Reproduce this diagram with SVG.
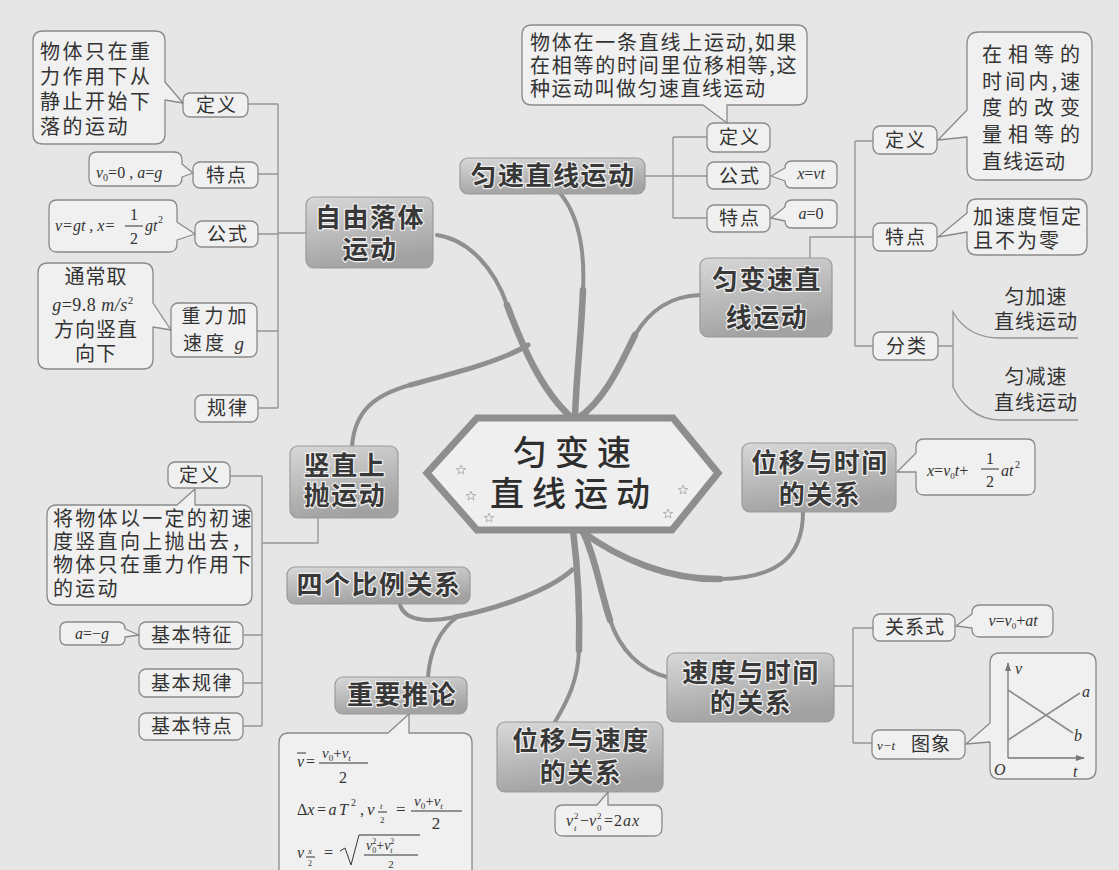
<svg xmlns="http://www.w3.org/2000/svg" width="1119" height="870" viewBox="0 0 1119 870">
<defs>
<linearGradient id="mg" x1="0" y1="0" x2="0.3" y2="1">
<stop offset="0" stop-color="#d8d8d8"/><stop offset="1" stop-color="#a2a2a2"/>
</linearGradient>
<marker id="ar" markerWidth="9" markerHeight="8" refX="8" refY="4" orient="auto" markerUnits="userSpaceOnUse"><path d="M0,1 L9,4 L0,7 Z" fill="#777"/></marker>
<path id="star" d="M0,-5 L1.2,-1.6 L4.8,-1.5 L1.9,0.6 L2.9,4 L0,2 L-2.9,4 L-1.9,0.6 L-4.8,-1.5 L-1.2,-1.6 Z"/>
<style>
.bg{fill:#e6e6e6}
.mn{fill:url(#mg);stroke:#9a9a9a;stroke-width:1.2}
.mt{font-family:"Noto Sans CJK SC","Noto Sans",sans-serif;font-weight:700;font-size:26px;fill:#383838;text-anchor:middle;letter-spacing:1.5px;stroke:#efefef;stroke-width:2.5px;paint-order:stroke;stroke-linejoin:round}
.sn{fill:#f0f0f0;stroke:#8a8a8a;stroke-width:1.3}
.st{font-family:"Noto Sans CJK SC",sans-serif;font-size:19px;fill:#333;text-anchor:middle}
.co{fill:#f0f0f0;stroke:#8a8a8a;stroke-width:1.3;stroke-linejoin:round}
.ct{font-family:"Noto Sans CJK SC",sans-serif;font-size:20px;fill:#333}
.cc{font-family:"Noto Sans CJK SC",sans-serif;font-size:20px;fill:#333;text-anchor:middle;letter-spacing:1px}
.m{font-family:"Liberation Serif",serif;font-style:italic;font-size:16px;fill:#333}
.u{font-style:normal}
.ln{fill:none;stroke:#969696;stroke-width:1.4}
.br{fill:none;stroke:#8f8f8f;stroke-linecap:round;stroke-linejoin:round}
.w1{stroke-width:4}
.w2{stroke-width:6.5}
.hx{fill:#efefef;stroke:#8e8e8e;stroke-width:7;stroke-linejoin:miter}
.ht{font-family:"Noto Sans CJK SC",sans-serif;font-weight:500;font-size:34px;fill:#2e2e2e;text-anchor:middle;letter-spacing:8px}
.sr{fill:none;stroke:#a5a5a5;stroke-width:0.8}
.fl{stroke:#333;stroke-width:1;fill:none}
.ax{stroke:#777;stroke-width:1.3;fill:none}
.gl{stroke:#8a8a8a;stroke-width:1.6;fill:none}
</style>
</defs>
<rect class="bg" x="0" y="0" width="1119" height="870"/>

<g id="connectors">
<path class="br w1" d="M560,193 C578,215 585,250 583,290"/>
<path class="br w2" d="M583,290 C581,340 576,380 575,418"/>
<path class="br w1" d="M437,235 C470,240 495,270 507,305"/>
<path class="br w2" d="M507,305 C520,340 540,390 572,418"/>
<path class="br w1" d="M352,446 C355,410 375,395 410,385"/>
<path class="br" stroke-width="5" d="M410,385 C450,374 500,362 528,345"/>
<path class="br w1" d="M700,295 C670,296 650,310 635,335"/>
<path class="br w2" d="M635,335 C620,365 605,400 578,418"/>
<path class="br w1" d="M803,512 C803,555 780,578 720,579"/>
<path class="br w2" d="M720,579 C670,580 620,560 580,530"/>
<path class="br w1" d="M667,677 C640,670 620,650 610,620"/>
<path class="br w2" d="M610,620 C600,590 595,555 582,530"/>
<path class="br w1" d="M555,722 C568,700 578,680 579,650"/>
<path class="br w2" d="M579,650 C580,610 578,570 573,530"/>
<path class="br w1" d="M400,605 C405,620 425,623 455,617"/>
<path class="br" stroke-width="5" d="M455,617 C500,608 550,590 572,570"/>
<path class="br w1" d="M428,677 C430,650 440,630 457,617"/>

<path class="ln" d="M306,233 H278 M278,104 V408 M248,104 H278 M258,174 H278 M258,234 H278 M257,331 H278 M258,408 H278"/>
<path class="ln" d="M318,518 V543 H262 M262,476 V726 M230,476 H262 M243,635 H262 M243,683 H262 M243,726 H262"/>
<path class="ln" d="M645,176 H707 M673,137 V218 M673,137 H707 M673,218 H707"/>
<path class="ln" d="M810,258 V237 H873 M855,141 V346 M855,141 H873 M855,346 H873"/>
<path class="ln" d="M834,686 H853 M853,628 V743 M853,628 H873 M853,743 H872"/>
<path class="ln" d="M938,346 H953 M1078,338 H1000 C978,338 962,328 953,312 V387 C960,402 975,420 1000,420 H1078"/>
</g>

<g id="center">
<polygon class="hx" points="427,473 477,418 673,418 718,473 672,530 477,530"/>
<use href="#star" class="sr" x="461" y="470"/>
<use href="#star" class="sr" x="471" y="496"/>
<use href="#star" class="sr" x="489" y="518"/>
<use href="#star" class="sr" x="683" y="490"/>
<use href="#star" class="sr" x="668" y="514"/>
<text class="ht"><tspan x="576" y="465">匀变速</tspan><tspan x="574" y="506">直线运动</tspan></text>
</g>

<g id="n-ziyou">
<rect class="mn" x="306" y="197" width="127" height="71" rx="8"/>
<text class="mt"><tspan x="370" y="227">自由落体</tspan><tspan x="370" y="259">运动</tspan></text>
</g>
<g id="n-yunsu">
<rect class="mn" x="460" y="158" width="185" height="36" rx="8"/>
<text class="mt" x="553" y="185">匀速直线运动</text>
</g>
<g id="n-yunbian">
<rect class="mn" x="700" y="258" width="132" height="79" rx="8"/>
<text class="mt"><tspan x="767" y="289">匀变速直</tspan><tspan x="767" y="327">线运动</tspan></text>
</g>
<g id="n-shuzhi">
<rect class="mn" x="290" y="446" width="108" height="72" rx="8"/>
<text class="mt"><tspan x="345" y="475">竖直上</tspan><tspan x="345" y="505">抛运动</tspan></text>
</g>
<g id="n-weiyi-shijian">
<rect class="mn" x="742" y="443" width="154" height="69" rx="8"/>
<text class="mt"><tspan x="820" y="472">位移与时间</tspan><tspan x="820" y="504">的关系</tspan></text>
</g>
<g id="n-sige">
<rect class="mn" x="287" y="567" width="183" height="37" rx="8"/>
<text class="mt" x="379" y="594">四个比例关系</text>
</g>
<g id="n-sudu-shijian">
<rect class="mn" x="667" y="653" width="167" height="69" rx="8"/>
<text class="mt"><tspan x="751" y="682">速度与时间</tspan><tspan x="751" y="712">的关系</tspan></text>
</g>
<g id="n-tuilun">
<rect class="mn" x="335" y="677" width="132" height="37" rx="8"/>
<text class="mt" x="402" y="704">重要推论</text>
</g>
<g id="n-weiyi-sudu">
<rect class="mn" x="497" y="722" width="166" height="70" rx="8"/>
<text class="mt"><tspan x="581" y="750">位移与速度</tspan><tspan x="581" y="782">的关系</tspan></text>
</g>

<g id="zy-dingyi">
<rect class="sn" x="183" y="93" width="65" height="24" rx="7"/>
<text class="st" x="217" y="112" letter-spacing="2">定义</text>
<path class="co" d="M43,31 H155 Q165,31 165,41 V82 L183,103 L165,100 V134 Q165,144 155,144 H43 Q33,144 33,134 V41 Q33,31 43,31 Z"/>
<text class="ct" letter-spacing="2.5"><tspan x="40" y="59">物体只在重</tspan><tspan x="40" y="84">力作用下从</tspan><tspan x="40" y="109">静止开始下</tspan><tspan x="40" y="134">落的运动</tspan></text>
</g>
<g id="zy-tedian">
<rect class="sn" x="193" y="162" width="65" height="26" rx="7"/>
<text class="st" x="227" y="182" letter-spacing="2">特点</text>
<path class="co" d="M97,152 H174 Q182,152 182,160 V164 L193,173 L182,177 V178 Q182,186 174,186 H97 Q89,186 89,178 V160 Q89,152 97,152 Z"/>
<text class="m" x="96" y="178" font-size="17">v<tspan font-size="10" dy="3" class="u">0</tspan><tspan dy="-3" class="u">=0 , </tspan><tspan>a</tspan><tspan class="u">=</tspan><tspan>g</tspan></text>
</g>
<g id="zy-gongshi">
<rect class="sn" x="195" y="221" width="63" height="26" rx="7"/>
<text class="st" x="228" y="241" letter-spacing="2">公式</text>
<path class="co" d="M57,200 H169 Q177,200 177,208 V222 L195,234 L177,240 V244 Q177,252 169,252 H57 Q49,252 49,244 V208 Q49,200 57,200 Z"/>
<text class="m"><tspan x="55" y="231">v=gt , x=</tspan><tspan class="u" x="134" y="220" text-anchor="middle">1</tspan><tspan class="u" x="134" y="244" text-anchor="middle">2</tspan><tspan x="145" y="231">gt</tspan><tspan class="u" x="158" y="223" font-size="10">2</tspan></text>
<line class="fl" x1="125" y1="226" x2="143" y2="226"/>
</g>
<g id="zy-zhongli">
<rect class="sn" x="171" y="303" width="86" height="54" rx="7"/>
<text class="st"><tspan x="216" y="323" letter-spacing="4">重力加</tspan><tspan x="215" y="350" letter-spacing="3">速度 <tspan font-family="Liberation Serif" font-style="italic">g</tspan></tspan></text>
<path class="co" d="M48,263 H143 Q153,263 153,273 V303 L171,330 L153,327 V359 Q153,369 143,369 H48 Q38,369 38,359 V273 Q38,263 48,263 Z"/>
<text class="cc" font-size="19"><tspan x="96" y="284">通常取</tspan><tspan x="93" y="311" font-family="Liberation Serif" font-style="italic" font-size="18" letter-spacing="0.5">g<tspan class="u">=9.8  </tspan>m/s<tspan class="u" font-size="11" dy="-7">2</tspan></tspan><tspan x="96" y="337">方向竖直</tspan><tspan x="96" y="361">向下</tspan></text>
</g>
<g id="zy-guilv">
<rect class="sn" x="195" y="395" width="63" height="27" rx="7"/>
<text class="st" x="228" y="415" letter-spacing="2">规律</text>
</g>

<g id="sz-dingyi">
<rect class="sn" x="168" y="462" width="62" height="26" rx="7"/>
<text class="st" x="200" y="482" letter-spacing="2">定义</text>
<path class="co" d="M57,505 H177 L195,489 V505 H242 Q252,505 252,515 V595 Q252,605 242,605 H57 Q47,605 47,595 V515 Q47,505 57,505 Z"/>
<text class="ct" font-size="19" letter-spacing="2.3"><tspan x="53" y="526">将物体以一定的初速</tspan><tspan x="53" y="549">度竖直向上抛出去，</tspan><tspan x="53" y="572">物体只在重力作用下</tspan><tspan x="53" y="596">的运动</tspan></text>
</g>
<g id="sz-tezheng">
<rect class="sn" x="139" y="622" width="104" height="27" rx="7"/>
<text class="st" x="192" y="642" letter-spacing="1.5">基本特征</text>
<path class="co" d="M67,622 H118 Q125,622 125,629 L139,635 L125,637 V638 Q125,645 118,645 H67 Q60,645 60,638 V629 Q60,622 67,622 Z"/>
<text class="m" x="92" y="639" text-anchor="middle">a<tspan class="u">=−</tspan>g</text>
</g>
<g id="sz-guilv">
<rect class="sn" x="139" y="669" width="104" height="28" rx="7"/>
<text class="st" x="192" y="690" letter-spacing="1.5">基本规律</text>
</g>
<g id="sz-tedian">
<rect class="sn" x="139" y="713" width="104" height="27" rx="7"/>
<text class="st" x="192" y="733" letter-spacing="1.5">基本特点</text>
</g>

<g id="ys-dingyi">
<rect class="sn" x="707" y="123" width="63" height="29" rx="7"/>
<text class="st" x="740" y="144" letter-spacing="2">定义</text>
<path class="co" d="M532,25 H797 Q807,25 807,35 V95 Q807,105 797,105 H727 V123 L703,105 H532 Q522,105 522,95 V35 Q522,25 532,25 Z"/>
<text class="ct"><tspan x="530" y="50" letter-spacing="1.75">物体在一条直线上运动,如果</tspan><tspan x="530" y="73" letter-spacing="1.75">在相等的时间里位移相等,这</tspan><tspan x="530" y="96" letter-spacing="1.5">种运动叫做匀速直线运动</tspan></text>
</g>
<g id="ys-gongshi">
<rect class="sn" x="707" y="162" width="63" height="27" rx="7"/>
<text class="st" x="740" y="183" letter-spacing="2">公式</text>
<path class="co" d="M792,161 H830 Q837,161 837,168 V181 Q837,188 830,188 H792 Q785,188 785,181 L771,176 L785,168 Q785,161 792,161 Z"/>
<text class="m" x="811" y="179" text-anchor="middle" font-size="14">x<tspan class="u">=</tspan>vt</text>
</g>
<g id="ys-tedian">
<rect class="sn" x="707" y="205" width="63" height="27" rx="7"/>
<text class="st" x="740" y="225" letter-spacing="2">特点</text>
<path class="co" d="M792,200 H830 Q837,200 837,207 V221 Q837,228 830,228 H792 Q785,228 785,221 L771,218 L785,207 Q785,200 792,200 Z"/>
<text class="m" x="811" y="219" text-anchor="middle">a<tspan class="u">=0</tspan></text>
</g>

<g id="yb-dingyi">
<rect class="sn" x="873" y="126" width="64" height="28" rx="7"/>
<text class="st" x="906" y="147" letter-spacing="2">定义</text>
<path class="co" d="M979,32 H1080 Q1092,32 1092,44 V168 Q1092,180 1080,180 H979 Q967,180 967,168 V137 L938,140 L967,110 V44 Q967,32 979,32 Z"/>
<text class="ct"><tspan x="982" y="62" letter-spacing="6">在相等的</tspan><tspan x="982" y="89" letter-spacing="3.2">时间内,速</tspan><tspan x="982" y="115" letter-spacing="6">度的改变</tspan><tspan x="982" y="142" letter-spacing="6">量相等的</tspan><tspan x="982" y="169" letter-spacing="1">直线运动</tspan></text>
</g>
<g id="yb-tedian">
<rect class="sn" x="873" y="223" width="64" height="28" rx="7"/>
<text class="st" x="906" y="244" letter-spacing="2">特点</text>
<path class="co" d="M977,199 H1077 Q1087,199 1087,209 V245 Q1087,255 1077,255 H977 Q967,255 967,245 V232 L938,237 L967,213 V209 Q967,199 977,199 Z"/>
<text class="ct" font-size="19" letter-spacing="2"><tspan x="973" y="224">加速度恒定</tspan><tspan x="973" y="248">且不为零</tspan></text>
</g>
<g id="yb-fenlei">
<rect class="sn" x="873" y="332" width="65" height="28" rx="7"/>
<text class="st" x="907" y="353" letter-spacing="2">分类</text>
<text class="cc"><tspan x="1036" y="304">匀加速</tspan><tspan x="1036" y="329">直线运动</tspan></text>
<text class="cc"><tspan x="1036" y="384">匀减速</tspan><tspan x="1036" y="410">直线运动</tspan></text>
</g>

<g id="wy-sj-formula">
<path class="co" d="M924,439 H1027 Q1035,439 1035,447 V487 Q1035,495 1027,495 H924 Q916,495 916,487 V472 L897,472 L916,453 V447 Q916,439 924,439 Z"/>
<text class="m" font-size="15"><tspan x="927" y="476">x<tspan class="u">=</tspan>v</tspan><tspan class="u" font-size="9" dy="3">0</tspan><tspan dy="-3">t<tspan class="u">+</tspan></tspan><tspan class="u" x="990" y="464" text-anchor="middle" font-size="16">1</tspan><tspan class="u" x="990" y="487" text-anchor="middle" font-size="16">2</tspan><tspan x="1001" y="476">at</tspan><tspan class="u" x="1015" y="468" font-size="10">2</tspan></text>
<line class="fl" x1="981" y1="469" x2="999" y2="469"/>
</g>

<g id="sd-guanxi">
<rect class="sn" x="873" y="614" width="82" height="27" rx="7"/>
<text class="st" x="915" y="634" letter-spacing="1">关系式</text>
<path class="co" d="M980,605 H1045 Q1053,605 1053,613 V629 Q1053,637 1045,637 H980 Q972,637 972,629 V628 L956,626 L972,614 V613 Q972,605 980,605 Z"/>
<text class="m" x="1013" y="626" text-anchor="middle" font-size="15">v<tspan class="u">=</tspan>v<tspan class="u" font-size="9" dy="3">0</tspan><tspan class="u" dy="-3">+</tspan>at</text>
</g>
<g id="sd-tuxiang">
<rect class="sn" x="872" y="730" width="93" height="29" rx="7"/>
<text class="st" style="text-anchor:start" x="877" y="750"><tspan font-family="Liberation Serif" font-style="italic" font-size="13">v−t</tspan><tspan x="911" y="751" letter-spacing="1">图象</tspan></text>
<path class="co" d="M1000,653 H1086 Q1096,653 1096,663 V769 Q1096,779 1086,779 H1000 Q990,779 990,769 V742 L966,744 L990,723 V663 Q990,653 1000,653 Z"/>
<line class="ax" x1="1008" y1="758" x2="1008" y2="663" marker-end="url(#ar)"/>
<line class="ax" x1="1008" y1="758" x2="1084" y2="758" marker-end="url(#ar)"/>
<line class="gl" x1="1008" y1="740" x2="1080" y2="693"/>
<line class="gl" x1="1008" y1="690" x2="1073" y2="733"/>
<text class="m" x="1015" y="674">v</text>
<text class="m" x="1082" y="697">a</text>
<text class="m" x="1074" y="741">b</text>
<text class="m" x="994" y="775">O</text>
<text class="m" x="1073" y="777">t</text>
</g>

<g id="wy-sd-formula">
<path class="co" d="M563,805 H597 L608,792 V805 H654 Q662,805 662,813 V828 Q662,836 654,836 H563 Q555,836 555,828 V813 Q555,805 563,805 Z"/>
<text class="m" font-size="16"><tspan x="566" y="826">v</tspan><tspan class="u" x="574" y="819" font-size="9">2</tspan><tspan x="574" y="831" font-size="9">t</tspan><tspan class="u" x="580" y="826">−</tspan><tspan>v</tspan><tspan class="u" x="597" y="819" font-size="9">2</tspan><tspan class="u" x="597" y="831" font-size="9">0</tspan><tspan class="u" x="604" y="826" letter-spacing="1">=2</tspan><tspan letter-spacing="1">ax</tspan></text>
</g>

<g id="tl-formula">
<path class="co" d="M289,733 H388 L409,714 V733 H462 Q472,733 472,743 V875 Q472,885 462,885 H289 Q279,885 279,875 V743 Q279,733 289,733 Z"/>
<text class="m" font-size="17"><tspan x="297" y="767">v</tspan><tspan class="u" x="306" y="767">=</tspan><tspan x="322" y="758" font-size="15">v</tspan><tspan class="u" font-size="9" dy="3">0</tspan><tspan class="u" font-size="15" dy="-3">+</tspan><tspan font-size="15">v</tspan><tspan font-size="9" dy="3">t</tspan><tspan class="u" x="343" y="783" text-anchor="middle">2</tspan></text>
<line class="fl" x1="297" y1="753" x2="306" y2="753"/>
<line class="fl" x1="319" y1="763" x2="368" y2="763"/>

<text class="m" font-size="18"><tspan class="u" x="297" y="815">Δ</tspan><tspan letter-spacing="2.5">x<tspan class="u">=</tspan>aT</tspan><tspan class="u" x="351" y="806" font-size="10">2</tspan><tspan class="u" x="360" y="815">,</tspan><tspan x="367" y="815" font-size="17">v</tspan><tspan x="380" y="809" font-size="9">t</tspan><tspan class="u" x="380" y="823" font-size="9">2</tspan><tspan class="u" x="396" y="815" font-size="17">=</tspan><tspan x="414" y="806" font-size="15">v</tspan><tspan class="u" font-size="9" dy="3">0</tspan><tspan class="u" font-size="15" dy="-3">+</tspan><tspan font-size="15">v</tspan><tspan font-size="9" dy="3">t</tspan><tspan class="u" x="436" y="829" text-anchor="middle" font-size="17">2</tspan></text>
<line class="fl" x1="378" y1="812" x2="387" y2="812"/>
<line class="fl" x1="411" y1="811" x2="462" y2="811"/>

<text class="m" font-size="17"><tspan x="297" y="858">v</tspan><tspan x="308" y="854" font-size="9">x</tspan><tspan class="u" x="308" y="866" font-size="8">2</tspan><tspan class="u" x="324" y="858">=</tspan><tspan x="366" y="850" font-size="14">v</tspan><tspan class="u" font-size="8" dy="-6">2</tspan><tspan class="u" font-size="8" dx="-4" dy="9">0</tspan><tspan class="u" font-size="14" dy="-3">+</tspan><tspan font-size="14">v</tspan><tspan class="u" font-size="8" dy="-6">2</tspan><tspan font-size="8" dx="-4" dy="9">t</tspan><tspan class="u" x="391" y="868" text-anchor="middle" font-size="11">2</tspan></text>
<line class="fl" x1="306" y1="857" x2="315" y2="857"/>
<path class="fl" stroke-width="1.3" d="M340,851 L345,848 L351,865 L359,835 H420"/>
<line class="fl" x1="364" y1="855" x2="418" y2="855"/>
</g>
</svg>
